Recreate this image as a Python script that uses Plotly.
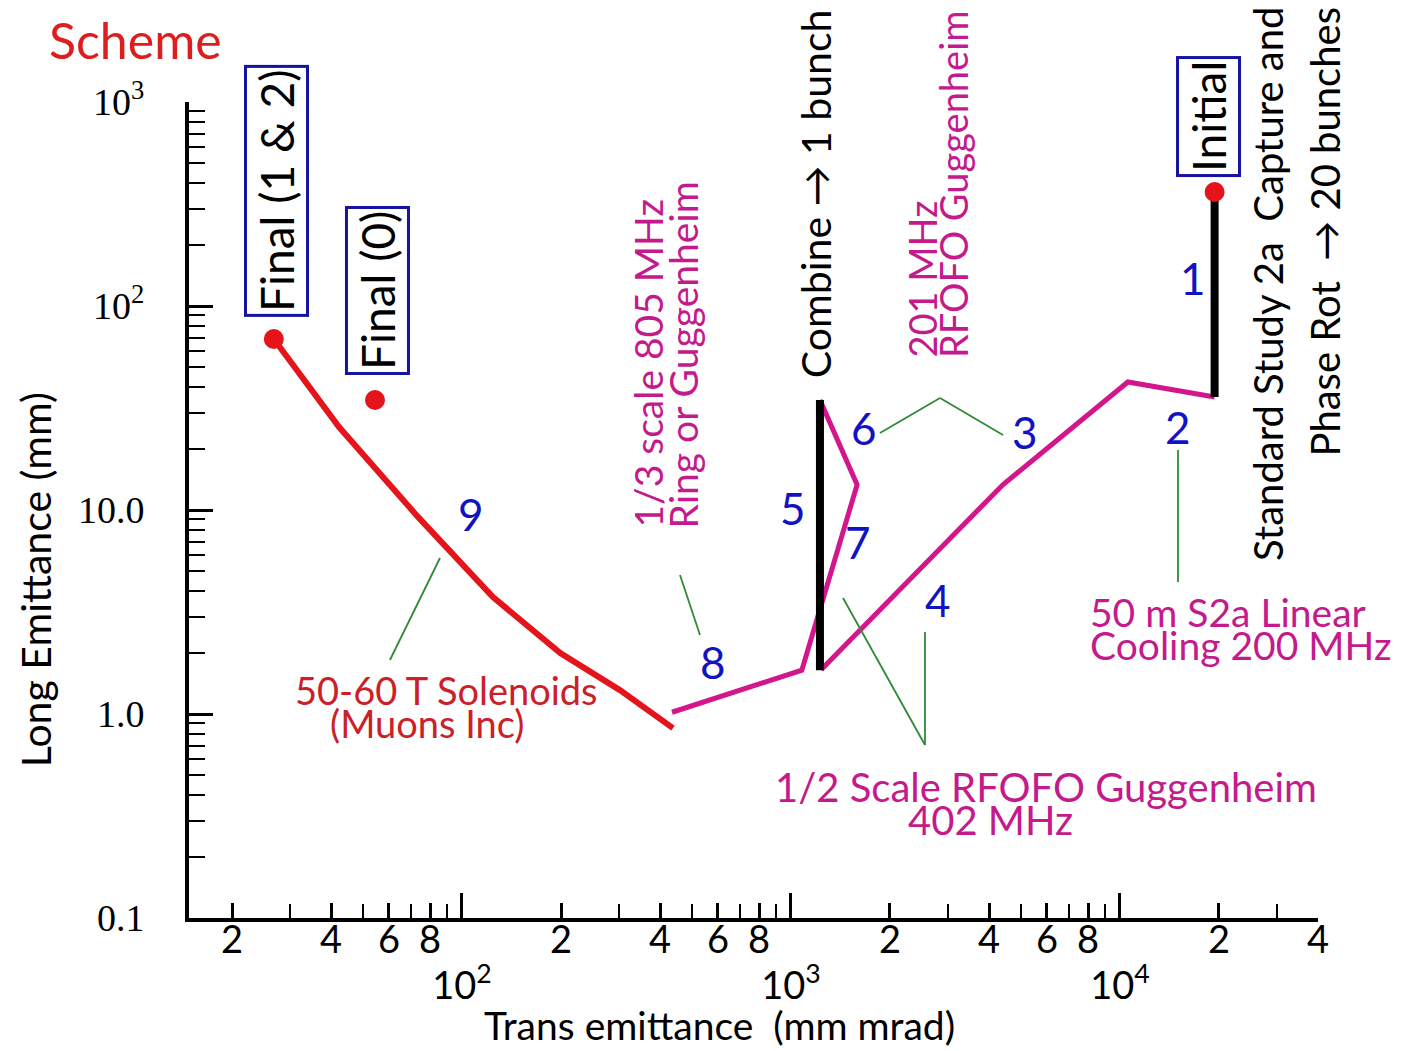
import math
import plotly.graph_objects as go

# ---------------- data ----------------
# Stage 9: 50-60 T solenoids (red)
scheme9_x = [438, 302, 199, 124, 73.5, 42.3, 26.8]
scheme9_y = [0.853, 1.31, 1.99, 3.75, 9.25, 25.5, 68.9]

# Stages 2,3,4 (magenta)
stage234_x = [19400, 10570, 4406, 1235]
stage234_y = [35.8, 42.4, 13.3, 1.65]

# Stages 6,7,8 (magenta)
stage678_x = [1225, 1589, 1079, 435]
stage678_y = [34.6, 13.3, 1.64, 1.02]

# Stage 1: phase rotation (black vertical)
stage1_x = [19400, 19400]
stage1_y = [362, 35.8]

# Stage 5: combine -> 1 bunch (black vertical)
stage5_x = [1225, 1225]
stage5_y = [34.6, 1.64]

# Marked points: Final (1 & 2), Final (0), Initial
points_x = [26.8, 54.4, 19400]
points_y = [68.9, 34.6, 362]

# axis ticks
x_decades = [100, 1000, 10000]
x_decade_text = ["10<sup>2</sup>", "10<sup>3</sup>", "10<sup>4</sup>"]
x_lab_vals = [20, 40, 60, 80, 200, 400, 600, 800, 2000, 4000, 6000, 8000, 20000, 40000]
x_lab_text = ["2", "4", "6", "8", "2", "4", "6", "8", "2", "4", "6", "8", "2", "4"]
x_minor_vals = [30, 50, 70, 90, 300, 500, 700, 900, 3000, 5000, 7000, 9000, 30000]
y_major_vals = [0.1, 1, 10, 100, 1000]
y_major_text = ["0.1", "1.0", "10.0", "10<sup>2</sup>", "10<sup>3</sup>"]
y_minor_vals = [k * 10.0 ** n for n in range(-1, 3) for k in range(2, 10)]

X_RANGE = [math.log10(14.8), math.log10(40000)]
Y_RANGE = [-1, 3]

RED = "#e5141b"
MAGENTA = "#d4168c"
MTEXT = "#c41a8c"
BLUE = "#1212c4"
BOXBLUE = "#1414a0"
GREEN = "#2e8b34"
SANS = "Lato"
SERIF = "Liberation Serif"

fig = go.Figure()

fig.add_trace(go.Scatter(x=scheme9_x, y=scheme9_y, mode="lines",
                         line=dict(color=RED, width=6), hoverinfo="skip"))
fig.add_trace(go.Scatter(x=stage234_x, y=stage234_y, mode="lines",
                         line=dict(color=MAGENTA, width=5), hoverinfo="skip"))
fig.add_trace(go.Scatter(x=stage678_x, y=stage678_y, mode="lines",
                         line=dict(color=MAGENTA, width=5), hoverinfo="skip"))
fig.add_trace(go.Scatter(x=stage1_x, y=stage1_y, mode="lines",
                         line=dict(color="black", width=8), hoverinfo="skip"))
fig.add_trace(go.Scatter(x=stage5_x, y=stage5_y, mode="lines",
                         line=dict(color="black", width=8), hoverinfo="skip"))
fig.add_trace(go.Scatter(x=points_x, y=points_y, mode="markers",
                         marker=dict(color=RED, size=20), hoverinfo="skip"))
# invisible trace to carry the decade-label axis
fig.add_trace(go.Scatter(x=points_x, y=points_y, mode="markers", xaxis="x2",
                         marker=dict(opacity=0), hoverinfo="skip"))

ann = []

def add_text(text, x, y, size=40, color="black", angle=0, family=SANS,
             xanchor="center", yanchor="middle", align="center", **kw):
    ann.append(dict(text=text, x=x, y=y, xref="paper", yref="paper",
                    showarrow=False, textangle=angle, xanchor=xanchor,
                    yanchor=yanchor, align=align,
                    font=dict(family=family, size=size, color=color), **kw))

# titles
add_text("Scheme", -0.0478, 1.076, size=50, color="#dc1e1e")
add_text("Long Emittance (mm)", -0.1364, 0.414, size=41, angle=-90)
add_text("Trans emittance\u00a0 (mm mrad)", 0.4703, -0.131, size=39)

# boxed labels
box = dict(bordercolor=BOXBLUE, borderwidth=3, borderpad=2)
add_text("Final (1 &amp; 2)", 0.0779, 0.891, size=46, angle=-90, **box)
add_text("Final (0)", 0.1665, 0.7696, size=46, angle=-90, **box)
add_text("Initial", 0.9026, 0.9816, size=46, angle=-90, **box)

# rotated descriptions (one annotation per line for tight line spacing)
add_text("Combine \u2192 1 bunch", 0.5545, 0.887, size=41, angle=-90)
add_text("1/3 scale 805 MHz", 0.4066, 0.4755, size=39, angle=-90, color=MTEXT,
         yanchor="bottom")
add_text("Ring or Guggenheim", 0.4384, 0.4755, size=39, angle=-90, color=MTEXT,
         yanchor="bottom")
add_text("201 MHz", 0.6484, 0.6838, size=38, angle=-90, color=MTEXT,
         yanchor="bottom")
add_text("RFOFO Guggenheim", 0.6767, 0.6838, size=38, angle=-90, color=MTEXT,
         yanchor="bottom")
add_text("Standard Study 2a\u00a0 Capture and", 0.9557, 1.1189, size=40,
         angle=-90, yanchor="top")
add_text("Phase Rot\u00a0 \u2192 20 bunches", 1.0062, 1.1189, size=40,
         angle=-90, yanchor="top")

# horizontal descriptions
add_text("50-60 T Solenoids", 0.2285, 0.2794, size=38, color="#cc2028")
add_text("(Muons Inc)", 0.2108, 0.239, size=38, color="#cc2028")
add_text("50 m S2a Linear", 0.7963, 0.375, size=39, color=MTEXT, xanchor="left")
add_text("Cooling 200 MHz", 0.7963, 0.3346, size=39, color=MTEXT, xanchor="left")
add_text("1/2 Scale RFOFO Guggenheim", 0.7591, 0.1605, size=40, color=MTEXT)
add_text("402 MHz", 0.7095, 0.1201, size=40, color=MTEXT)

# stage numbers
for t, x, y in [("1", 0.8893, 0.7843), ("2", 0.876, 0.6017), ("3", 0.7405, 0.5956),
                ("4", 0.6634, 0.3897), ("5", 0.535, 0.5025), ("6", 0.5979, 0.6005),
                ("7", 0.5926, 0.4608), ("8", 0.4641, 0.3137), ("9", 0.2498, 0.4951)]:
    add_text(t, x, y, size=44, color=BLUE)

# leader lines
shapes = []
def seg(x0, y0, x1, y1):
    shapes.append(dict(type="line", xref="paper", yref="paper", x0=x0, y0=y0,
                       x1=x1, y1=y1, line=dict(color=GREEN, width=1.8)))

seg(0.178, 0.3162, 0.2223, 0.4412)
seg(0.4349, 0.4203, 0.4526, 0.3468)
seg(0.612, 0.5944, 0.6652, 0.6373)
seg(0.6652, 0.6373, 0.721, 0.5919)
seg(0.876, 0.5735, 0.876, 0.4118)
seg(0.6519, 0.3505, 0.6519, 0.212)
seg(0.5793, 0.3922, 0.6519, 0.212)

# page body has an 8px margin, so the figure is 8px smaller on each axis
fig.update_layout(
    template="none",
    width=1393, height=1043,
    margin=dict(l=181, r=83, t=94, b=133, autoexpand=False),
    paper_bgcolor="white", plot_bgcolor="white",
    showlegend=False,
    annotations=ann, shapes=shapes,
    xaxis=dict(type="log", range=X_RANGE, showgrid=False, zeroline=False,
               automargin=False,
               showline=True, linecolor="black", linewidth=4,
               ticks="inside", ticklen=15, tickwidth=2.5, tickcolor="black",
               tickmode="array", tickvals=x_lab_vals, ticktext=x_lab_text,
               tickfont=dict(family=SANS, size=38, color="black"),
               ticklabelstandoff=-15,
               minor=dict(ticks="inside", ticklen=14, tickwidth=2,
                          tickcolor="black", tickmode="array",
                          tickvals=x_minor_vals, showgrid=False)),
    xaxis2=dict(type="log", range=X_RANGE, overlaying="x", anchor="y",
                side="bottom", showgrid=False, zeroline=False, showline=False,
                automargin=False,
                ticks="inside", ticklen=25, tickwidth=2.5, tickcolor="black",
                tickmode="array", tickvals=x_decades, ticktext=x_decade_text,
                tickfont=dict(family=SANS, size=38, color="black"),
                ticklabelstandoff=42),
    yaxis=dict(type="log", range=Y_RANGE, showgrid=False, zeroline=False,
               automargin=False,
               showline=True, linecolor="black", linewidth=4,
               ticks="inside", ticklen=24, tickwidth=2.5, tickcolor="black",
               tickmode="array", tickvals=y_major_vals, ticktext=y_major_text,
               tickfont=dict(family=SERIF, size=38, color="black"),
               ticklabelstandoff=33,
               minor=dict(ticks="inside", ticklen=16, tickwidth=2,
                          tickcolor="black", tickmode="array",
                          tickvals=y_minor_vals, showgrid=False)),
)

fig.write_html("out.html")
